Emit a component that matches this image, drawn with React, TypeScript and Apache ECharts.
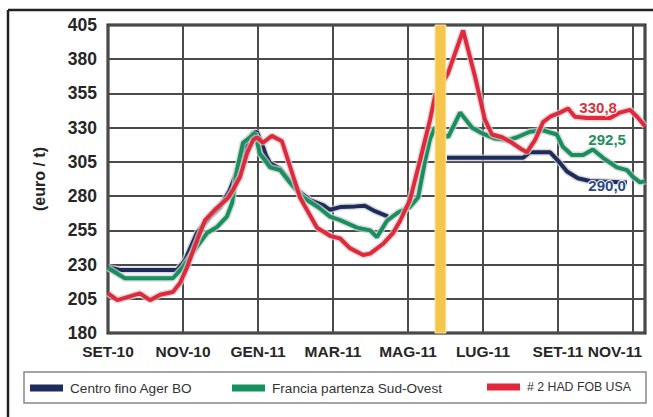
import React, { useEffect, useRef } from 'react';
import * as echarts from 'echarts';

// ---- data ----
const X_TICK_LABELS = ['SET-10', 'NOV-10', 'GEN-11', 'MAR-11', 'MAG-11', 'LUG-11', 'SET-11', 'NOV-11'];
const Y_TICKS = [180, 205, 230, 255, 280, 305, 330, 355, 380, 405];
const X_MAX = 14.32; // months after SET-10 at the right edge
const SEASON_BREAK = [8.72, 9.01];

const SERIES_NAMES = ['Centro fino Ager BO', 'Francia partenza Sud-Ovest', '# 2 HAD FOB USA'];

// x = months since SET-10, y = euro / t
const BLUE_OLD: [number, number][] = [
  [0, 228], [0.32, 226], [1.84, 226], [2.05, 233], [2.37, 253], [2.72, 265], [2.99, 272], [3.25, 284.5],
  [3.52, 304], [3.73, 321], [3.87, 326], [3.97, 327], [4.11, 318], [4.21, 310], [4.32, 304], [4.59, 300],
  [4.85, 291], [5.12, 283], [5.39, 277], [5.73, 273.5], [5.92, 270], [6.19, 272], [6.59, 272.5], [6.85, 273],
  [7.12, 269], [7.47, 265],
];
const BLUE_NEW: [number, number][] = [
  [9.04, 308], [11.07, 308], [11.25, 312], [11.79, 312], [12.0, 306], [12.24, 298], [12.53, 293],
  [12.85, 291], [13.84, 290],
];
const GREEN: [number, number][] = [
  [0, 227.5], [0.45, 220], [1.73, 220], [2.0, 228], [2.37, 243], [2.64, 253], [2.91, 257.5], [3.17, 265],
  [3.31, 275], [3.44, 299], [3.6, 319], [3.79, 323], [3.92, 326], [4.05, 311], [4.19, 306], [4.32, 301],
  [4.59, 299], [4.85, 290], [5.2, 279], [5.65, 271], [5.92, 265], [6.19, 262.5], [6.64, 257], [6.99, 255],
  [7.17, 250], [7.44, 262], [7.73, 268], [8.05, 272], [8.27, 279], [8.45, 305], [8.59, 322], [8.72, 330],
  [9.07, 323], [9.39, 341], [9.71, 330], [9.97, 326], [10.32, 322], [10.67, 321], [10.91, 323], [11.25, 327],
  [11.6, 328], [11.97, 325], [12.13, 316], [12.37, 310], [12.67, 310], [12.93, 314], [13.2, 308], [13.57, 301],
  [13.84, 299], [14.0, 294], [14.19, 290], [14.32, 291],
];
const RED: [number, number][] = [
  [0, 209], [0.25, 204], [0.85, 209], [1.12, 204], [1.39, 208], [1.73, 210], [1.92, 216.5], [2.11, 228],
  [2.24, 238], [2.51, 257], [2.59, 262.5], [2.85, 270], [3.2, 278.6], [3.33, 284.5], [3.52, 294], [3.71, 311.5],
  [3.87, 321], [3.97, 323], [4.13, 319], [4.37, 324], [4.64, 320], [4.85, 302], [5.12, 279], [5.57, 257],
  [5.92, 251], [6.19, 249], [6.45, 242], [6.8, 237], [6.99, 238], [7.33, 245], [7.6, 253], [7.79, 262],
  [8.05, 277], [8.32, 306], [8.59, 336], [8.72, 353], [9.07, 370], [9.47, 401], [9.79, 367], [10.05, 336],
  [10.24, 325], [10.51, 323], [10.77, 319], [11.04, 314], [11.17, 312], [11.39, 321], [11.6, 334], [11.79, 338],
  [12.05, 341], [12.27, 344], [12.45, 338], [12.77, 337], [13.39, 337], [13.65, 341], [13.92, 343], [14.11, 338],
  [14.32, 331],
];

const LAST_LABELS = ['290,0', '292,5', '330,8'];
const LAST_LABEL_AT: [number, number][] = [[13.31, 288], [13.31, 321.5], [13.07, 345]];

const COLORS = ['#1d2c5a', '#17905f', '#e2283a'];
const LABEL_COLORS = ['#2b4a86', '#1f8f5f', '#d8323c'];

const FONT = "'Liberation Sans', 'DejaVu Sans', sans-serif";

export default function App() {
  const ref = useRef<HTMLDivElement>(null);
  useEffect(() => {
    const chart = echarts.init(ref.current!, null, { renderer: 'svg' });
    const BLUE = [...BLUE_OLD, [8.5, null], ...BLUE_NEW];
    const datasets = [BLUE, GREEN, RED];

    const series: any[] = [];
    datasets.forEach((data, i) => {
      series.push({
        name: SERIES_NAMES[i] + ' ',
        type: 'line',
        data,
        symbol: 'none',
        silent: true,
        lineStyle: { color: 'rgba(205,205,205,0.75)', width: 7 },
        z: 2,
      });
      series.push({
        name: SERIES_NAMES[i],
        type: 'line',
        data,
        symbol: 'none',
        color: COLORS[i],
        itemStyle: { color: COLORS[i] },
        lineStyle: { color: COLORS[i], width: 4 },
        z: 2,
        markPoint: {
          symbol: 'rect',
          symbolSize: 1,
          itemStyle: { color: 'rgba(0,0,0,0)' },
          silent: true,
          data: [{ coord: LAST_LABEL_AT[i], value: LAST_LABELS[i] }],
          label: {
            show: true,
            position: 'inside',
            formatter: () => LAST_LABELS[i],
            color: LABEL_COLORS[i],
            fontSize: 15,
            fontWeight: 'bold',
            fontFamily: FONT,
            textBorderColor: '#fff',
            textBorderWidth: 2,
          },
        },
      });
    });

    series.push({
      type: 'custom',
      name: 'break',
      z: 10,
      silent: true,
      data: [SEASON_BREAK],
      encode: { x: [0, 1] },
      renderItem: (_p: any, api: any) => {
        const a = api.coord([api.value(0), Y_TICKS[Y_TICKS.length - 1]]);
        const b = api.coord([api.value(1), Y_TICKS[0]]);
        return {
          type: 'rect',
          shape: { x: a[0], y: a[1], width: b[0] - a[0], height: b[1] - a[1] },
          style: { fill: '#f5c64c', stroke: '#fbe6a8', lineWidth: 1 },
        };
      },
    });

    const legendLeft = [30, 232, 487];
    const legendFont = [13.6, 13.6, 12.3];
    const option: any = {
      animation: false,
      backgroundColor: '#fff',
      grid: {
        left: 108, right: 8, top: 25, bottom: 84,
        show: true, borderColor: '#1e1e1e', borderWidth: 3,
      },
      xAxis: {
        type: 'value',
        min: 0,
        max: X_MAX,
        interval: 2,
        axisLine: { show: false },
        axisTick: { show: false },
        splitLine: { show: true, lineStyle: { color: '#4a4a4a', width: 2 } },
        axisLabel: {
          margin: 10,
          showMaxLabel: false,
          color: '#262626',
          fontSize: 15.5,
          fontWeight: 'bold',
          fontFamily: FONT,
          formatter: (v: number) => {
            if (Math.abs(v - Math.round(v)) > 1e-6) return '';
            const idx = v / 2;
            const t = X_TICK_LABELS[idx] ?? '';
            return idx === X_TICK_LABELS.length - 1 ? '{n|' + t + '}' : t;
          },
          rich: {
            n: {
              padding: [0, 36, 0, 0],
              color: '#262626',
              fontSize: 15.5,
              fontWeight: 'bold',
              fontFamily: FONT,
            },
          },
        },
      },
      yAxis: {
        type: 'value',
        min: Y_TICKS[0],
        max: Y_TICKS[Y_TICKS.length - 1],
        interval: Y_TICKS[1] - Y_TICKS[0],
        name: '(euro / t)',
        nameLocation: 'middle',
        nameGap: 61,
        nameRotate: 90,
        nameTextStyle: { fontSize: 16, fontWeight: 'bold', color: '#262626', fontFamily: FONT },
        axisLine: { show: false },
        axisTick: { show: false },
        splitLine: { show: true, lineStyle: { color: '#4a4a4a', width: 2 } },
        axisLabel: { margin: 11, color: '#262626', fontSize: 17.5, fontWeight: 'bold', fontFamily: FONT },
      },
      legend: SERIES_NAMES.map((name, i) => ({
        data: [name],
        left: legendLeft[i],
        top: 381,
        padding: 0,
        itemWidth: 33,
        itemHeight: 7,
        itemGap: 6,
        icon: 'rect',
        selectedMode: false,
        textStyle: { fontSize: legendFont[i], color: '#333', fontFamily: FONT, padding: [0, 0, 0, 2] },
      })),
      graphic: [
        {
          type: 'rect', z: 0,
          shape: { x: 24, y: 372, width: 622, height: 31 },
          style: { fill: '#fff', stroke: '#888', lineWidth: 1.5 },
        },
        { type: 'line', z: 0, shape: { x1: 8, y1: 10, x2: 653, y2: 10 }, style: { stroke: '#222', lineWidth: 2.5 } },
        { type: 'line', z: 0, shape: { x1: 8, y1: 10, x2: 8, y2: 417 }, style: { stroke: '#222', lineWidth: 2.5 } },
      ],
      series,
    };
    chart.setOption(option);
    return () => chart.dispose();
  }, []);
  return (
    <div
      ref={ref}
      style={{ position: 'fixed', left: 0, top: 0, width: 653, height: 417, background: '#fff' }}
    />
  );
}
